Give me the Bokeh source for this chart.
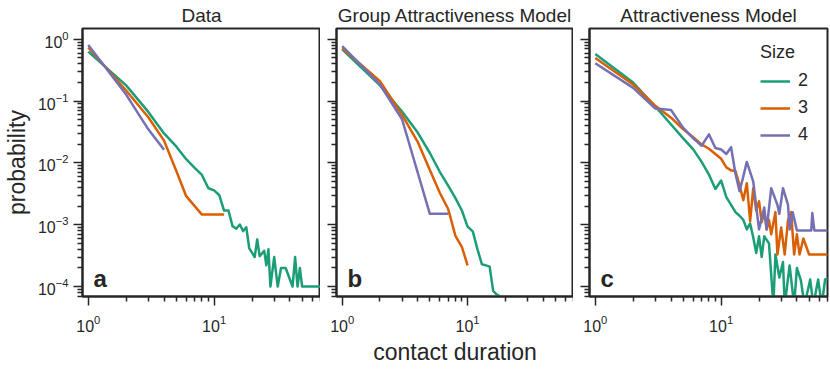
from bokeh.plotting import figure
from bokeh.layouts import row
from bokeh.models import FixedTicker, Label, Legend, LegendItem, CustomJSTickFormatter
from bokeh.embed import file_html
from bokeh.resources import INLINE

# ---------------- data ----------------
sizes = ["2", "3", "4"]
colors = ["#1b9e77", "#d95f02", "#7570b3"]
panel_titles = ["Data", "Group Attractiveness Model", "Attractiveness Model"]
panel_letters = ["a", "b", "c"]
x_axis_title = "contact duration"
y_axis_title = "probability"
legend_title = "Size"

# Panel a: Data
a2_x = [1, 2, 3, 4, 5, 6, 7, 8, 9, 10, 11, 12, 13, 14, 15, 16, 17, 18, 19, 21, 22, 23, 25, 26, 27, 28, 30,
        32, 34, 37, 42, 44, 46, 48, 50, 68, 75]
a2_y = [0.635, 0.18, 0.067, 0.03, 0.0185, 0.0115, 0.0083, 0.0064, 0.0039, 0.0036, 0.003, 0.0017, 0.0017,
        0.00095, 0.00086, 0.00101, 0.00079, 0.00091, 0.00042, 0.0003, 0.00058, 0.00031, 0.00038, 0.00022,
        0.0004, 0.0001, 0.0003, 0.0001, 0.0002, 0.0002, 0.0001, 0.0003, 0.0001, 0.0002, 0.0001, 0.0001, 0.0001]
a3_x = [1, 2, 3, 4, 5, 6, 8, 12]
a3_y = [0.74, 0.149, 0.055, 0.023, 0.0075, 0.0029, 0.00146, 0.00146]
a4_x = [1, 2, 3, 4]
a4_y = [0.81, 0.128, 0.035, 0.0163]

# Panel b: Group Attractiveness Model
b2_x = [1, 2, 3, 4, 5, 6, 7, 8, 9, 10, 11, 12, 13, 14, 15, 16, 17, 18]
b2_y = [0.69, 0.18, 0.068, 0.031, 0.0145, 0.0072, 0.0043, 0.0027, 0.0017, 0.00093, 0.00078, 0.0004,
        0.00023, 0.00022, 0.00021, 0.000085, 0.000075, 0.00007]
b3_x = [1, 2, 3, 4, 5, 6, 7, 8, 9, 10]
b3_y = [0.72, 0.21, 0.06, 0.022, 0.0077, 0.0033, 0.0018, 0.00066, 0.00044, 0.00022]
b4_x = [1, 2, 3, 5, 7]
b4_y = [0.78, 0.186, 0.051, 0.0015, 0.0015]

# Panel c: Attractiveness Model
c2_x = [1, 2, 3, 4, 5, 6, 7, 8, 9, 10, 11, 12, 13, 14, 15, 16, 17, 18, 19, 20, 21, 22, 24, 26, 27, 29, 31,
        32, 35, 38, 40, 43, 46, 51, 54, 59, 63, 67, 75]
c2_y = [0.58, 0.2, 0.082, 0.042, 0.025, 0.0166, 0.0104, 0.0065, 0.0038, 0.0052, 0.0028, 0.0021, 0.0016,
        0.0014, 0.0012, 0.00084, 0.00105, 0.00062, 0.00035, 0.00065, 0.0003, 0.00065, 0.0005, 0.00005,
        0.00033, 0.00014, 0.00025, 0.00005, 0.00022, 0.00005, 0.0002, 0.000126, 0.00005, 0.00013, 0.00005,
        0.00013, 0.00005, 0.00013, 0.00014]
c3_x = [1, 2, 3, 4, 5, 6, 7, 8, 9, 10, 11, 12, 13, 14, 15, 16, 17, 18, 19, 20, 21, 22, 23, 24, 25, 27, 28,
        30, 32, 34, 36, 38, 40, 42, 45, 50, 75]
c3_y = [0.5, 0.186, 0.084, 0.054, 0.035, 0.026, 0.02, 0.017, 0.014, 0.0117, 0.0085, 0.0076, 0.0074, 0.0044,
        0.0025, 0.0047, 0.00114, 0.0039, 0.0017, 0.0024, 0.0011, 0.0016, 0.00084, 0.0012, 0.0007, 0.0016,
        0.00033, 0.0009, 0.00033, 0.0012, 0.0016, 0.00033, 0.0007, 0.00033, 0.0006, 0.00033, 0.00033]
c4_x = [1, 2, 3, 4, 5, 6, 7, 8, 9, 10, 11, 12, 13, 14, 15, 16, 18, 20, 22, 23, 25, 28, 29, 31, 34, 35, 37,
        40, 52, 53, 55, 75]
c4_y = [0.41, 0.164, 0.076, 0.072, 0.037, 0.025, 0.019, 0.029, 0.0175, 0.0165, 0.014, 0.018, 0.0067, 0.0035,
        0.006, 0.0104, 0.005, 0.00084, 0.0019, 0.00084, 0.0039, 0.0021, 0.0015, 0.0039, 0.0021, 0.00084,
        0.0016, 0.00081, 0.00081, 0.00155, 0.00081, 0.00081]

panels = [
    [(a2_x, a2_y), (a3_x, a3_y), (a4_x, a4_y)],
    [(b2_x, b2_y), (b3_x, b3_y), (b4_x, b4_y)],
    [(c2_x, c2_y), (c3_x, c3_y), (c4_x, c4_y)],
]

x_major_ticks = [1, 10]
y_major_ticks = [1e-4, 1e-3, 1e-2, 1e-1, 1]
x_minor_ticks = [k * 10.0 ** e for e in (0, 1) for k in range(2, 10)]
y_minor_ticks = [k * 10.0 ** e for e in range(-5, 0) for k in range(2, 10)]
X_RANGE = (0.9, 70)
Y_RANGE = (6.9e-5, 1.5)

# ---------------- style ----------------
INK = "#262626"
FONT = "Liberation Sans"
FRAME_W = [238, 237, 238]
FRAME_H = 271
BORDER_L = [82, 16, 16]
BORDER_R = [0, 0, 2]
BORDER_T = 25
BORDER_B = 71


def make_panel(i):
    p = figure(x_axis_type="log", y_axis_type="log", x_range=X_RANGE, y_range=Y_RANGE,
               width=BORDER_L[i] + FRAME_W[i] + BORDER_R[i], height=BORDER_T + FRAME_H + BORDER_B,
               min_border_left=BORDER_L[i], min_border_right=BORDER_R[i],
               min_border_top=BORDER_T, min_border_bottom=BORDER_B,
               output_backend="svg", toolbar_location=None)
    p.grid.visible = False
    p.outline_line_color = INK
    p.outline_line_width = 2
    p.outline_line_alpha = 1
    p.background_fill_color = "white"
    p.border_fill_color = "white"

    p.title.text = panel_titles[i]
    p.title.align = "center"
    p.title.text_font = FONT
    p.title.text_font_size = "19px"
    p.title.text_font_style = "normal"
    p.title.text_color = INK
    p.title.standoff = 5

    p.xaxis.ticker = FixedTicker(ticks=x_major_ticks, minor_ticks=x_minor_ticks)
    p.yaxis.ticker = FixedTicker(ticks=y_major_ticks, minor_ticks=y_minor_ticks)
    for ax in (p.xaxis[0], p.yaxis[0]):
        ax.axis_line_color = INK
        ax.axis_line_width = 2
        ax.major_tick_out = 9
        ax.major_tick_in = 0
        ax.minor_tick_out = 5
        ax.minor_tick_in = 0
        ax.major_tick_line_color = INK
        ax.minor_tick_line_color = INK
        ax.major_tick_line_width = 1.5
        ax.minor_tick_line_width = 1.5
        ax.major_label_text_font = FONT
        ax.major_label_text_font_size = "16px"
        ax.major_label_text_color = INK
        ax.axis_label_text_font = FONT
        ax.axis_label_text_font_size = "23px"
        ax.axis_label_text_font_style = "normal"
        ax.axis_label_text_color = INK
    p.xaxis.major_label_standoff = 9
    p.yaxis.major_label_standoff = 5
    if i == 0:
        p.yaxis.axis_label = y_axis_title
        p.yaxis.axis_label_standoff = 5
    else:
        p.yaxis.formatter = CustomJSTickFormatter(code="return ''")
        p.yaxis.major_label_standoff = 0
    if i == 1:
        p.xaxis.axis_label = x_axis_title
        p.xaxis.axis_label_standoff = 4

    renderers = []
    for (xs, ys), col in zip(panels[i], colors):
        r = p.line(xs, ys, line_color=col, line_width=2.5, line_join="round")
        renderers.append(r)

    p.add_layout(Label(x=11, y=18, x_units="screen", y_units="screen",
                       text=panel_letters[i], text_align="left", text_baseline="alphabetic",
                       text_font=FONT, text_font_size="24px", text_font_style="bold",
                       text_color=INK))
    if i == 2:
        legend = Legend(items=[LegendItem(label=s, renderers=[r]) for s, r in zip(sizes, renderers)],
                        location="top_right", title=legend_title)
        legend.border_line_color = None
        legend.background_fill_alpha = 0
        legend.label_text_font = FONT
        legend.label_text_font_size = "18px"
        legend.label_text_color = INK
        legend.label_width = 15
        legend.title_text_font = FONT
        legend.title_text_font_size = "18px"
        legend.title_text_font_style = "normal"
        legend.title_text_color = INK
        legend.title_standoff = 7
        legend.glyph_width = 30
        legend.glyph_height = 20
        legend.label_standoff = 8
        legend.spacing = 6
        legend.margin = 14
        legend.padding = 8
        p.add_layout(legend)
    return p


figs = [make_panel(i) for i in range(3)]
layout = row(*figs, spacing=0)

open("out.html", "w").write(file_html(layout, INLINE))
